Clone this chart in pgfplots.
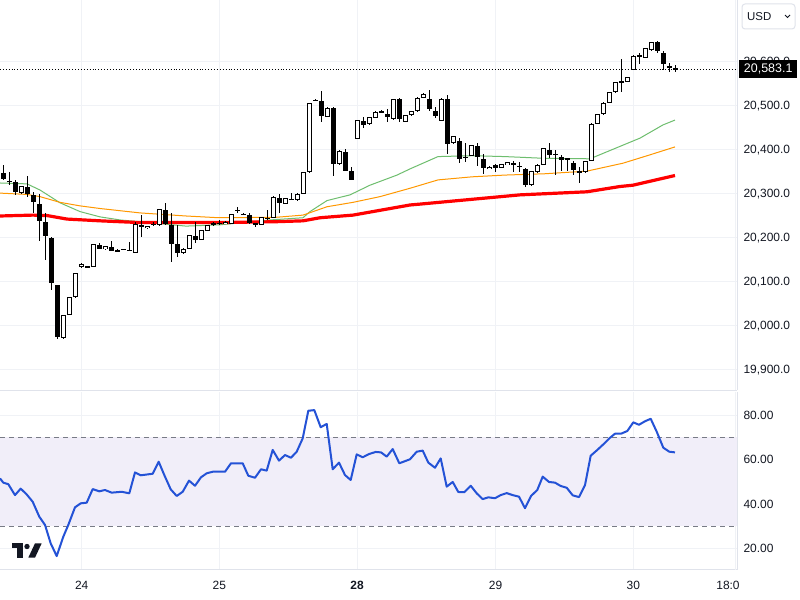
\documentclass[border=0pt]{standalone}
\usepackage{pgfplots}
\pgfplotsset{compat=1.18}
\usepackage{pgfplotstable}
\usepackage{fontspec}
\setmainfont{Liberation Sans}

\definecolor{gridcol}{RGB}{240,242,246}
\definecolor{sepcol}{RGB}{224,227,235}
\definecolor{labcol}{RGB}{19,23,34}
\definecolor{magreen}{RGB}{110,190,110}
\definecolor{maorange}{RGB}{255,152,0}
\definecolor{mared}{RGB}{255,0,0}
\definecolor{rsiblue}{RGB}{36,82,214}
\definecolor{bandcol}{RGB}{241,238,249}
\definecolor{dashcol}{RGB}{120,123,134}

% hourly candles: k = bar index, open high low close
\pgfplotstableread{
k o h l c
0 20348 20366 20333 20335
1 20330 20351 20320 20328
2 20327 20332 20298 20305
3 20302 20318 20300 20318
4 20317 20341 20294 20300
5 20298 20305 20256 20283
6 20277 20301 20194 20239
7 20237 20256 20151 20205
8 20201 20202 20082 20097
9 20093 20094 19970 19974
10 19972 20026 19970 20025
11 20025 20066 20024 20065
12 20065 20121 20064 20120
13 20133 20143 20132 20142
14 20136 20137 20132 20133
15 20135 20187 20134 20186
16 20184 20188 20174 20176
17 20174 20182 20173 20181
18 20179 20194 20170 20171
19 20173 20174 20169 20170
20 20174 20176 20173 20175
21 20172 20192 20170 20173
22 20167 20237 20166 20232
23 20230 20252 20203 20224
24 20222 20228 20221 20227
25 20230 20236 20228 20232
26 20229 20266 20228 20265
27 20264 20279 20229 20232
28 20230 20256 20146 20186
29 20186 20230 20157 20167
30 20165 20177 20164 20176
31 20176 20207 20175 20206
32 20205 20237 20188 20196
33 20196 20219 20195 20218
34 20217 20230 20216 20229
35 20233 20236 20228 20230
36 20232 20240 20229 20234
37 20232 20238 20231 20237
38 20233 20255 20232 20254
39 20262 20271 20256 20263
40 20255 20256 20253 20254
41 20252 20258 20232 20233
42 20233 20234 20224 20232
43 20230 20248 20229 20247
44 20245 20264 20242 20246
45 20246 20295 20245 20294
46 20290 20299 20256 20279
47 20278 20291 20277 20290
48 20288 20302 20286 20289
49 20286 20302 20285 20301
50 20301 20350 20300 20349
51 20349 20507 20348 20506
52 20514 20516 20511 20512
53 20512 20534 20463 20478
54 20476 20497 20475 20496
55 20496 20497 20341 20368
56 20368 20399 20367 20398
57 20396 20402 20352 20352
58 20352 20362 20331 20333
59 20425 20469 20424 20468
60 20466 20476 20449 20458
61 20458 20476 20457 20475
62 20473 20488 20472 20487
63 20487 20490 20485 20488
64 20483 20493 20463 20474
65 20470 20517 20469 20516
66 20516 20518 20464 20470
67 20464 20480 20463 20479
68 20479 20489 20478 20488
69 20488 20520 20487 20519
70 20519 20529 20518 20528
71 20517 20536 20488 20493
72 20488 20498 20472 20478
73 20466 20518 20465 20517
74 20517 20525 20390 20413
75 20415 20433 20414 20432
76 20420 20428 20370 20380
77 20385 20417 20372 20383
78 20387 20412 20386 20411
79 20410 20415 20364 20385
80 20380 20392 20345 20358
81 20357 20363 20356 20362
82 20366 20369 20349 20360
83 20360 20369 20359 20368
84 20366 20373 20365 20372
85 20371 20375 20349 20366
86 20364 20372 20349 20363
87 20358 20359 20317 20320
88 20320 20353 20319 20352
89 20349 20368 20348 20367
90 20367 20405 20366 20404
91 20400 20415 20381 20389
92 20392 20400 20343 20388
93 20385 20389 20352 20377
94 20381 20382 20352 20380
95 20371 20375 20343 20355
96 20352 20362 20324 20349
97 20349 20376 20348 20375
98 20375 20461 20374 20460
99 20460 20482 20459 20481
100 20481 20509 20480 20508
101 20508 20532 20507 20531
102 20531 20555 20530 20554
103 20556 20607 20533 20553
104 20555 20566 20554 20565
105 20582 20615 20581 20614
106 20612 20620 20595 20615
107 20610 20632 20609 20631
108 20627 20646 20626 20645
109 20645 20648 20620 20625
110 20620 20625 20582 20595
111 20592 20597 20578 20586
112 20586 20593 20578 20583.1
}\candles

% moving averages, x in chart pixels
\pgfplotstableread{
x g
0 20325
27 20323
40 20309
60 20280
80 20260
100 20248
120 20241
140 20237
186 20227
220 20230
270 20241
303 20246
310 20260
327 20285
350 20298
370 20320
397 20343
410 20357
438 20385
472 20387
505 20385
545 20381
590 20380
607 20396
640 20427
663 20457
675 20468
}\magreen

\pgfplotstableread{
x v
0 20302
27 20299
40 20294
60 20281
80 20273
100 20267
140 20257
186 20250
219 20246
276 20247
303 20252
327 20271
353 20281
380 20294
410 20313
438 20332
472 20339
505 20343
545 20346
587 20352
623 20370
650 20389
675 20407
}\maorange

\pgfplotstableread{
x v
0 20250
33 20252
47 20251
67 20243
100 20239
140 20235
219 20235
276 20237
303 20239
320 20246
353 20252
410 20275
420 20277
520 20298
587 20305
620 20317
633 20320
675 20342
}\mared

\pgfplotstableread{
x r
0 51.5
3.3 49.6
8.3 48.9
15 44.0
20.7 46.9
26.7 44.3
32.7 41.0
39.3 34.3
45 30.6
50.7 22.3
56.7 16.6
63.3 25.3
68.3 30.6
75 38.5
80.7 40.3
86.7 40.6
92.7 46.7
99.3 45.7
105 46.3
111.7 45.1
121.7 45.5
129.3 44.8
135 54.2
140.7 52.9
152.7 53.6
158.7 59.0
164.3 53.0
170.7 46.6
176.7 43.6
182.7 45.5
189 50.5
195 48.2
201 52.0
206.7 53.8
212.7 54.5
225 54.5
231 58.3
242.7 58.3
248.3 52.7
255 51.8
261 55.6
266.7 55.0
272.7 64.3
279 59.5
285 62.0
291 60.8
296.7 63.5
302.7 69.5
308.3 81.9
314.3 82.2
320.7 74.5
326.7 76.0
332.7 55.6
339 58.6
345 53.0
350.7 50.8
356.7 62.3
362.7 61.0
369.3 62.5
375.7 63.4
381 63.2
386.7 61.3
392.7 64.7
399.3 58.3
410 60.1
416.7 63.5
422.7 64.0
428.3 58.6
435 56.3
440.7 60.5
446.7 47.8
452.7 49.9
458.3 45.4
464.3 45.3
470.7 48.2
476.7 44.8
482.7 42.2
488.3 43.0
495 42.6
500.7 44.0
506.7 44.9
512.7 44.0
519 43.3
525 38.1
531 43.6
537.3 46.3
542.7 52.3
549 49.9
555 49.6
560.7 48.1
566.7 47.3
572.7 43.9
579 43.1
585 48.5
590.7 61.7
597.3 64.3
603.3 66.8
609.3 69.5
615 71.6
621 71.6
627.3 72.8
633.3 76.7
639 75.6
645 77.2
650.7 78.3
656.7 72.5
663.3 65.3
669.3 63.5
675 63.2
}\rsi

\pgfplotsset{
  tvpane/.style={
    scale only axis, width=737bp,
    xmin=0, xmax=737,
    axis x line*=bottom, axis y line*=right,
    axis line style={draw=sepcol, line width=1bp},
    tick style={draw=none},
    grid=major, major grid style={draw=gridcol, line width=1bp},
    xtick={81.7,219.3,357,495.5,633.3,735},
    ticklabel style={font=\fontsize{12}{14}\selectfont, text=labcol},
    yticklabel style={xshift=3bp},
    clip mode=individual,
  },
}

\begin{document}
\begin{tikzpicture}
\path[use as bounding box, fill=white] (0,0) rectangle (800bp,600bp);

\begin{axis}[tvpane,
  at={(0bp,600bp)}, anchor=north west, height=390bp,
  ymin=19854.5, ymax=20740.9,
  xticklabels={},
  ytick={19900,20000,...,20600},
  scaled y ticks=false,
  yticklabel style={/pgf/number format/.cd, fixed, fixed zerofill, precision=1, 1000 sep={,}, assume math mode=true},
]
\addplot[draw=magreen, line width=1bp] table[x=x, y=g] {\magreen};
\addplot[draw=maorange, line width=1bp] table[x=x, y=v] {\maorange};
\addplot[draw=mared, line width=3.2bp] table[x=x, y=v] {\mared};
% wicks
\addplot[draw=none, mark=none, error bars/.cd, y dir=both, y explicit, error mark=none,
  error bar style={draw=black, line width=1bp}]
  table[x expr=3.7+6*\thisrow{k}, y expr=(\thisrow{h}+\thisrow{l})/2,
        y error expr=(\thisrow{h}-\thisrow{l})/2] {\candles};
% bodies
\addplot[draw=none, mark=none, error bars/.cd, y dir=both, y explicit, error mark=none,
  error bar style={draw=black, line width=4.6bp}]
  table[x expr=3.7+6*\thisrow{k}, y expr=(\thisrow{o}+\thisrow{c})/2,
        y error expr={max(abs(\thisrow{c}-\thisrow{o})/2,1.1)}] {\candles};
% hollow inside of rising candles
\addplot[draw=none, mark=none, error bars/.cd, y dir=both, y explicit, error mark=none,
  error bar style={draw=white, line width=2.6bp}]
  table[x expr=3.7+6*\thisrow{k}, y expr=(\thisrow{o}+\thisrow{c})/2,
        y error expr={max((\thisrow{c}-\thisrow{o})/2-2.27,0)}] {\candles};
% last price
\addplot[draw=black, dotted, line width=0.9bp] coordinates {(0,20583.1) (737,20583.1)};
\node[fill=black, text=white, anchor=west, inner sep=0bp, minimum height=18bp, minimum width=58bp,
  font=\fontsize{12.5}{14}\selectfont] at ([xshift=2bp]axis cs:737,20583.1) {20,583.1};
\end{axis}

\begin{axis}[tvpane,
  at={(0bp,208bp)}, anchor=north west, height=178bp,
  ymin=10.34, ymax=90.34,
  ytick={20,40,60,80},
  xticklabels={24,25,\textbf{28},29,30,{}},
  extra x ticks={735}, extra x tick labels={18:0},
  extra x tick style={xticklabel style={xshift=-7bp}},
  xticklabel style={yshift=-8bp},
  yticklabel style={/pgf/number format/.cd, fixed, fixed zerofill, precision=2, assume math mode=true},
]
\addplot[draw=none, fill=bandcol] coordinates {(0,30) (0,70) (737,70) (737,30)} -- cycle;
\addplot[draw=dashcol, dash pattern=on 5bp off 4bp, line width=1bp] coordinates {(0,70) (737,70)};
\addplot[draw=dashcol, dash pattern=on 5bp off 4bp, line width=1bp] coordinates {(0,30) (737,30)};
\addplot[draw=rsiblue, line width=2bp, line join=round] table[x=x, y=r] {\rsi};
\end{axis}

% currency button
\draw[sepcol, rounded corners=3bp, line width=1bp] (742bp,571bp) rectangle (795bp,596bp);
\node[anchor=west, inner sep=0pt, font=\fontsize{11.5}{13}\selectfont, text=labcol] at (747bp,583.5bp) {USD};
\draw[labcol, line width=0.8bp] (785bp,585bp) -- (787.5bp,582.5bp) -- (790bp,585bp);

% logo
\fill[labcol] (11.7bp,56.7bp) rectangle (23.3bp,51.7bp);
\fill[labcol] (17.3bp,56.7bp) rectangle (23.3bp,42.3bp);
\fill[labcol] (27bp,53.5bp) circle (2.7bp);
\fill[labcol] (28.3bp,42.3bp) -- (35bp,42.3bp) -- (41.7bp,56.7bp) -- (35bp,56.7bp) -- cycle;
\end{tikzpicture}
\end{document}
